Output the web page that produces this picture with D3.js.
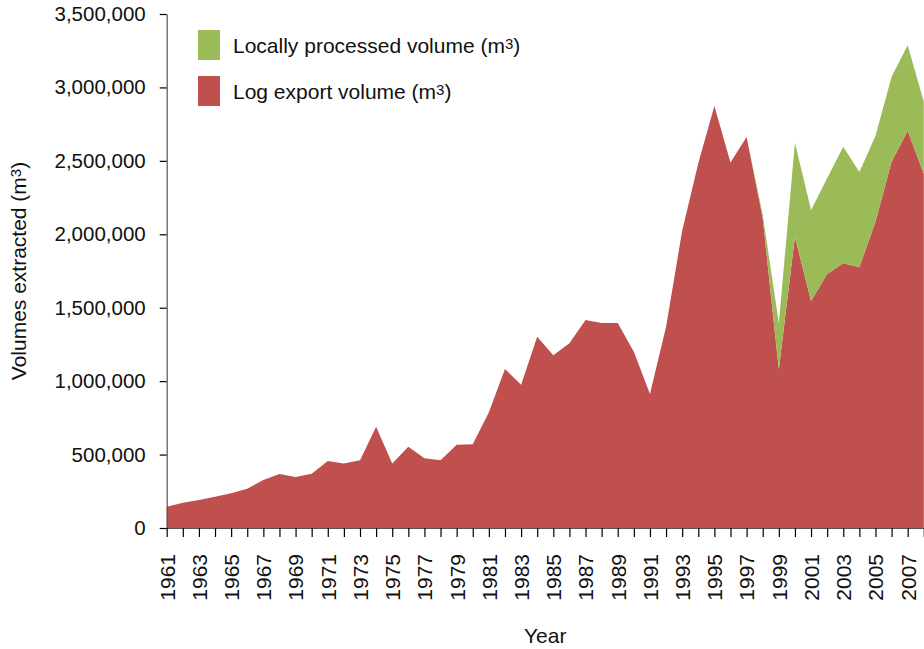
<!DOCTYPE html>
<html>
<head>
<meta charset="utf-8">
<script src="https://cdn.jsdelivr.net/npm/d3@7"></script>
<style>
  html, body { margin: 0; padding: 0; background: #fff; }
  svg { display: block; font-family: "Liberation Sans", Arial, Helvetica, sans-serif; }
</style>
</head>
<body>
<svg id="chart" width="924" height="649"></svg>
<script>
// Annual timber volumes, 1961–2008
const years = [
  1961, 1962, 1963, 1964, 1965, 1966, 1967, 1968, 1969, 1970,
  1971, 1972, 1973, 1974, 1975, 1976, 1977, 1978, 1979, 1980,
  1981, 1982, 1983, 1984, 1985, 1986, 1987, 1988, 1989, 1990,
  1991, 1992, 1993, 1994, 1995, 1996, 1997, 1998, 1999, 2000,
  2001, 2002, 2003, 2004, 2005, 2006, 2007, 2008
];

// Log export volume (m³)
const logExport = [
  145000, 172000, 190000, 213000, 236000, 268000, 327000, 368000, 347000, 370000,
  456000, 440000, 461000, 690000, 440000, 554000, 475000, 461000, 567000, 570000,
  788000, 1083000, 976000, 1303000, 1176000, 1258000, 1416000, 1396000, 1396000, 1200000,
  912000, 1371000, 2024000, 2483000, 2873000, 2488000, 2662000, 2110000, 1081000, 1984000,
  1546000, 1730000, 1802000, 1775000, 2086000, 2494000, 2705000, 2410000
];

// Locally processed volume (m³), stacked on top of exports
const localProcessed = [
  0, 0, 0, 0, 0, 0, 0, 0, 0, 0,
  0, 0, 0, 0, 0, 0, 0, 0, 0, 0,
  0, 0, 0, 0, 0, 0, 0, 0, 0, 0,
  0, 0, 0, 0, 0, 0, 0, 25000, 313000, 640000,
  619000, 651000, 794000, 649000, 583000, 579000, 582000, 493000
];

const yTicks = [0, 500000, 1000000, 1500000, 2000000, 2500000, 3000000, 3500000];

const seriesNames = ["Log export volume", "Locally processed volume"];
const seriesColors = ["#C0504D", "#9BBB59"];

const rows = years.map((yr, i) => ({ year: yr, exp: logExport[i], loc: localProcessed[i] }));

const svg = d3.select("#chart");
const plotLeft = 166.7, plotRight = 923.8, plotTop = 14, plotBottom = 528;

const x = d3.scaleLinear().domain([years[0], years[years.length - 1]]).range([plotLeft, plotRight]);
const y = d3.scaleLinear().domain([0, 3500000]).range([plotBottom, plotTop]);

const stacked = d3.stack().keys(["exp", "loc"])(rows);

const area = d3.area()
  .x(d => x(d.data.year))
  .y0(d => y(d[0]))
  .y1(d => y(d[1]));

svg.append("g")
  .selectAll("path")
  .data(stacked)
  .join("path")
  .attr("d", area)
  .attr("fill", (d, i) => seriesColors[i]);

// Y axis
const yAxis = svg.append("g")
  .attr("transform", `translate(${plotLeft},0)`)
  .call(d3.axisLeft(y).tickValues(yTicks).tickFormat(d3.format(",")).tickSize(7).tickSizeOuter(0).tickPadding(14));
yAxis.select(".domain").attr("stroke", "#555").attr("stroke-width", 1.2);
yAxis.selectAll(".tick line").attr("stroke", "#000").attr("stroke-width", 1.2);
yAxis.selectAll(".tick text").attr("font-size", 20.5).attr("fill", "#111").attr("font-family", null);

// X axis
const xAxis = svg.append("g")
  .attr("transform", `translate(0,${plotBottom})`)
  .call(d3.axisBottom(x).tickValues(years).tickSize(9).tickSizeOuter(0)
    .tickFormat(d => (d % 2 === 1 ? String(d) : "")));
xAxis.select(".domain").attr("stroke", "#555").attr("stroke-width", 1.2);
xAxis.selectAll(".tick line").attr("stroke", "#000").attr("stroke-width", 1.2);
xAxis.selectAll(".tick text")
  .attr("font-size", 21)
  .attr("fill", "#111")
  .attr("font-family", null)
  .attr("transform", "rotate(-90)")
  .attr("x", -26)
  .attr("y", 0)
  .attr("dy", "0.35em")
  .style("text-anchor", "end");

// Axis titles
const yTitle = svg.append("text")
  .attr("transform", `translate(26,${(plotTop + plotBottom) / 2}) rotate(-90)`)
  .attr("text-anchor", "middle")
  .attr("font-size", 21)
  .attr("fill", "#111");
yTitle.append("tspan").text("Volumes extracted (m");
yTitle.append("tspan").attr("font-size", 15).attr("dy", -5).text("3");
yTitle.append("tspan").attr("dy", 5).text(")");

svg.append("text")
  .attr("x", (plotLeft + plotRight) / 2)
  .attr("y", 643)
  .attr("text-anchor", "middle")
  .attr("font-size", 21)
  .attr("fill", "#111")
  .text("Year");

// Legend (processed first, then exports)
const legendItems = [
  { name: seriesNames[1], color: seriesColors[1] },
  { name: seriesNames[0], color: seriesColors[0] }
];
const legend = svg.append("g");
legendItems.forEach((item, i) => {
  const cy = 45 + i * 46;
  legend.append("rect")
    .attr("x", 198).attr("y", cy - 15)
    .attr("width", 22).attr("height", 30)
    .attr("fill", item.color);
  const t = legend.append("text")
    .attr("x", 233).attr("y", cy + 8)
    .attr("font-size", 21)
    .attr("fill", "#111");
  t.append("tspan").text(item.name + " (m");
  t.append("tspan").attr("font-size", 15).attr("dy", -4).text("3");
  t.append("tspan").attr("dy", 4).text(")");
});
</script>
</body>
</html>
